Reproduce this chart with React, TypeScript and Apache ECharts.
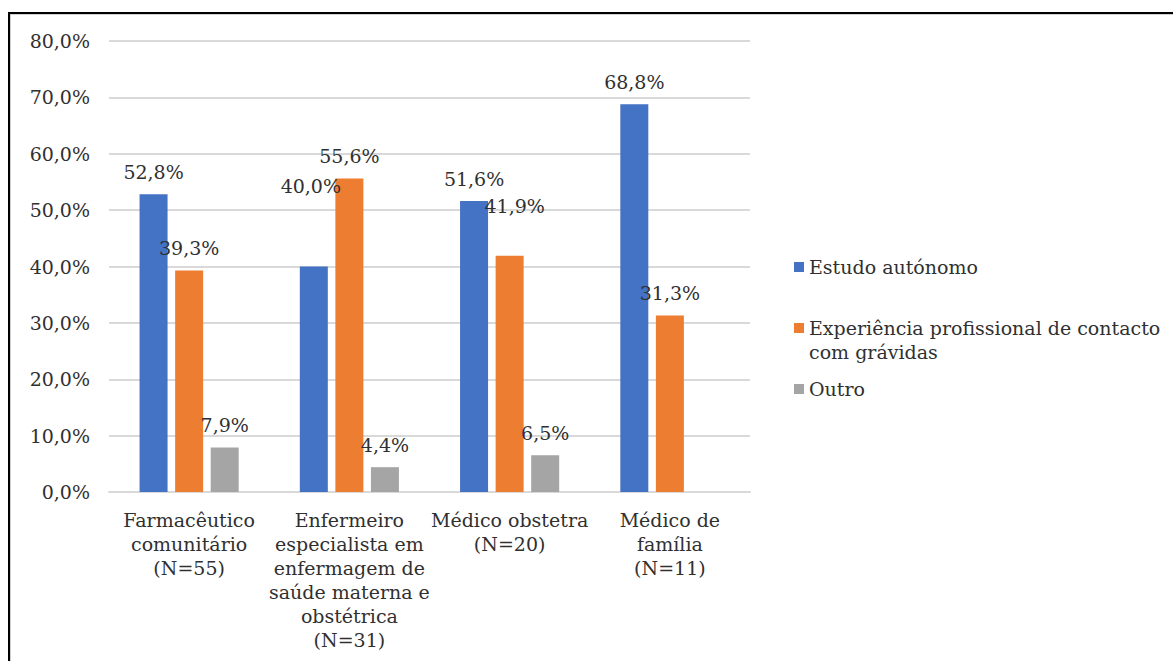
import React, { useEffect, useRef } from "react";
import * as echarts from "echarts";

// Categories (line breaks as they wrap under the axis)
const categories = [
  "Farmacêutico\ncomunitário\n(N=55)",
  "Enfermeiro\nespecialista em\nenfermagem de\nsaúde materna e\nobstétrica\n(N=31)",
  "Médico obstetra\n(N=20)",
  "Médico de\nfamília\n(N=11)",
];

const seriesNames = [
  "Estudo autónomo",
  "Experiência profissional de contacto com grávidas",
  "Outro",
];

// Percentages per category
const estudoAutonomo = [52.8, 40.0, 51.6, 68.8];
const experienciaProfissional = [39.3, 55.6, 41.9, 31.3];
const outro: (number | null)[] = [7.9, 4.4, 6.5, null];

const yTicks = { min: 0, max: 80, interval: 10 };

const colors = ["#4472C4", "#ED7D31", "#A5A5A5"];
const FONT = "DejaVu Serif";
const TEXT = "#303030";
const FS = 19;

const fmt = (v: number) => v.toFixed(1).replace(".", ",") + "%";

// a few labels sit higher above their bars: [dx, dy]
const shiftBlue: Record<number, number[]> = { 1: [-3, -58] };
const shiftOrange: Record<number, number[]> = { 2: [5, -27] };

function toData(values: (number | null)[], shift: Record<number, number[]>) {
  return values.map((v, i) =>
    v == null ? null : shift[i] ? { value: v, label: { offset: shift[i] } } : v
  );
}

export default function App() {
  const ref = useRef<HTMLDivElement>(null);

  useEffect(() => {
    if (!ref.current) return;
    const chart = echarts.init(ref.current, undefined, { renderer: "svg" });

    const label = {
      show: true,
      position: "top",
      distance: 13,
      color: TEXT,
      fontFamily: FONT,
      fontSize: FS,
      formatter: (p: any) => fmt(p.value),
    };

    const mkSeries = (name: string, data: any[], color: string) => ({
      name,
      type: "bar",
      data,
      barWidth: 28,
      barGap: "27%",
      itemStyle: { color },
      label,
    });

    chart.setOption({
      animation: false,
      textStyle: { fontFamily: FONT },
      grid: { left: 109, right: 423, top: 41, bottom: 169, containLabel: false },
      legend: {
        orient: "vertical",
        left: 789,
        top: 250,
        icon: "rect",
        itemWidth: 10,
        itemHeight: 10,
        itemGap: 13,
        selectedMode: false,
        textStyle: { fontFamily: FONT, fontSize: FS, color: TEXT, lineHeight: 24 },
        // the wrapped entry gets a blank first line so its marker sits beside the first text line
        formatter: (name: string) =>
          name === seriesNames[1]
            ? "\nExperiência profissional de contacto\ncom grávidas"
            : name,
        data: seriesNames,
      },
      xAxis: {
        type: "category",
        data: categories,
        axisTick: { show: false },
        axisLine: { lineStyle: { color: "#d9d9d9", width: 2 } },
        axisLabel: {
          interval: 0,
          margin: 16,
          color: TEXT,
          fontFamily: FONT,
          fontSize: FS,
          lineHeight: 24,
          align: "center",
        },
      },
      yAxis: {
        type: "value",
        min: yTicks.min,
        max: yTicks.max,
        interval: yTicks.interval,
        axisLine: { show: false },
        axisTick: { show: false },
        splitLine: { lineStyle: { color: "#d9d9d9", width: 2 } },
        axisLabel: {
          margin: 19,
          color: TEXT,
          fontFamily: FONT,
          fontSize: FS,
          formatter: (v: number) => fmt(v),
        },
      },
      series: [
        mkSeries(seriesNames[0], toData(estudoAutonomo, shiftBlue), colors[0]),
        mkSeries(seriesNames[1], toData(experienciaProfissional, shiftOrange), colors[1]),
        mkSeries(seriesNames[2], toData(outro, {}), colors[2]),
      ],
    });

    return () => chart.dispose();
  }, []);

  return (
    <div
      style={{
        position: "fixed",
        left: 0,
        top: 0,
        width: 1173,
        height: 661,
        background: "#fff",
        overflow: "hidden",
      }}
    >
      <div
        style={{
          position: "absolute",
          left: 8,
          top: 12,
          width: 1170,
          height: 660,
          borderLeft: "2px solid #000",
          borderTop: "2px solid #000",
          boxShadow: "inset 1px 1px 0 #d0d0d0",
        }}
      />
      <div ref={ref} style={{ position: "absolute", left: 0, top: 0, width: 1173, height: 661 }} />
    </div>
  );
}
